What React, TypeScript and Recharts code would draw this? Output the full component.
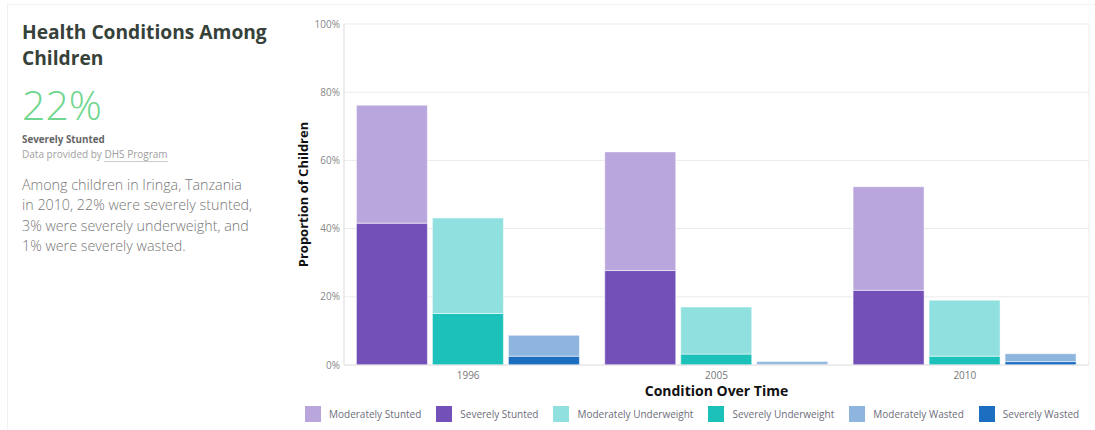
import React from 'react';
import { BarChart, Bar, XAxis, YAxis, CartesianGrid } from 'recharts';

const years = ['1996', '2005', '2010'];
const severelyStunted = [41.6, 27.7, 21.9];
const moderatelyStunted = [34.6, 34.8, 30.4];
const severelyUnderweight = [15.1, 3.2, 2.6];
const moderatelyUnderweight = [28.0, 13.8, 16.4];
const severelyWasted = [2.6, 0.2, 1.0];
const moderatelyWasted = [6.1, 0.8, 2.3];
const yTicks = [0, 20, 40, 60, 80, 100];

const series = [
  { key: 'severelyStunted', name: 'Severely Stunted', stack: 'stunted', color: '#734fb8', values: severelyStunted },
  { key: 'moderatelyStunted', name: 'Moderately Stunted', stack: 'stunted', color: '#b9a6dd', values: moderatelyStunted },
  { key: 'severelyUnderweight', name: 'Severely Underweight', stack: 'underweight', color: '#1cc2b9', values: severelyUnderweight },
  { key: 'moderatelyUnderweight', name: 'Moderately Underweight', stack: 'underweight', color: '#90e0df', values: moderatelyUnderweight },
  { key: 'severelyWasted', name: 'Severely Wasted', stack: 'wasted', color: '#1c6ec1', values: severelyWasted },
  { key: 'moderatelyWasted', name: 'Moderately Wasted', stack: 'wasted', color: '#8db5de', values: moderatelyWasted },
];

// legend reads moderate then severe for each condition
const legendOrder = ['moderatelyStunted', 'severelyStunted', 'moderatelyUnderweight', 'severelyUnderweight', 'moderatelyWasted', 'severelyWasted'];

const chartData = years.map((year, i) => {
  const row: Record<string, string | number> = { year };
  series.forEach(s => { row[s.key] = s.values[i]; });
  return row;
});

const font = '"Open Sans", sans-serif';

const YLabel = (props: any) => {
  const { viewBox } = props;
  const cx = viewBox.x + 13;
  const cy = viewBox.y + viewBox.height / 2;
  return (
    <text x={cx} y={cy} transform={`rotate(-90, ${cx}, ${cy})`} textAnchor="middle" dominantBaseline="central"
      fontSize={13} fontWeight={700} fill="#111" fontFamily={font}>
      Proportion of Children
    </text>
  );
};

const XLabel = (props: any) => {
  const { viewBox } = props;
  return (
    <text x={viewBox.x + viewBox.width / 2} y={viewBox.y + 25} textAnchor="middle" dominantBaseline="central"
      fontSize={14} fontWeight={700} fill="#111" fontFamily={font}>
      Condition Over Time
    </text>
  );
};

export default function App() {
  return (
    <div style={{ position: 'absolute', left: 0, top: 0, width: 1095, height: 430, background: '#fff', overflow: 'hidden', fontFamily: font }}>
      <div style={{ position: 'absolute', left: 7, top: 4, width: 1100, height: 440, border: '1px solid #f1f1f1' }} />

      <div style={{ position: 'absolute', left: 22, top: 19, width: 270 }}>
        <div style={{ fontSize: 19.2, fontWeight: 700, color: '#36413a', lineHeight: '26px' }}>
          Health Conditions Among<br />Children
        </div>
        <div style={{ fontSize: 41, fontWeight: 300, color: '#6fd68f', lineHeight: '50px', marginTop: 8 }}>22%</div>
        <div style={{ fontSize: 9.8, fontWeight: 700, color: '#666', marginTop: 4, lineHeight: '14px' }}>Severely Stunted</div>
        <div style={{ fontSize: 10, color: '#a0a0a0', lineHeight: '14px', whiteSpace: 'nowrap' }}>
          Data provided by <span style={{ borderBottom: '1px solid #ccc' }}>DHS Program</span>
        </div>
        <div style={{ fontSize: 14.3, fontWeight: 300, color: '#777', lineHeight: '20.3px', marginTop: 14, whiteSpace: 'nowrap' }}>
          Among children in Iringa, Tanzania<br />in 2010, 22% were severely stunted,<br />3% were severely underweight, and<br />1% were severely wasted.
        </div>
      </div>

      <div style={{ position: 'absolute', left: 290, top: 0 }}>
        <BarChart width={805} height={430} data={chartData}
          margin={{ top: 24, right: 6, left: 0, bottom: 0 }}
          barCategoryGap="5%" barGap={5}>
          <CartesianGrid stroke="#ebebeb" vertical={true}
            verticalCoordinatesGenerator={({ offset }: any) => [offset.left, offset.left + offset.width]} />
          <XAxis dataKey="year" height={65} tickLine={false} tickSize={0} tickMargin={7}
            axisLine={{ stroke: '#e3e3e3' }}
            tick={{ fontSize: 10, fill: '#777', fontFamily: font }}
            label={<XLabel />} />
          <YAxis width={54} domain={[0, 100]} ticks={yTicks} tickFormatter={(v: number) => `${v}%`}
            tickLine={false} tickSize={0} tickMargin={4}
            axisLine={{ stroke: '#e3e3e3' }}
            tick={{ fontSize: 10, fill: '#888', fontFamily: font }}
            label={<YLabel />} />
          {series.map(s => (
            <Bar key={s.key} dataKey={s.key} name={s.name} stackId={s.stack} fill={s.color}
              stroke="#ffffff" strokeOpacity={0.5} strokeWidth={1} isAnimationActive={false} />
          ))}
        </BarChart>
      </div>

      <div style={{ position: 'absolute', left: 305, top: 406, display: 'flex', alignItems: 'center', gap: 15, whiteSpace: 'nowrap' }}>
        {legendOrder.map(k => {
          const s = series.find(x => x.key === k)!;
          return (
            <div key={k} style={{ display: 'flex', alignItems: 'center', flexShrink: 0 }}>
              <div style={{ width: 16, height: 16, background: s.color, marginRight: 8 }} />
              <span style={{ fontSize: 10, color: '#6d6d7a' }}>{s.name}</span>
            </div>
          );
        })}
      </div>
    </div>
  );
}
